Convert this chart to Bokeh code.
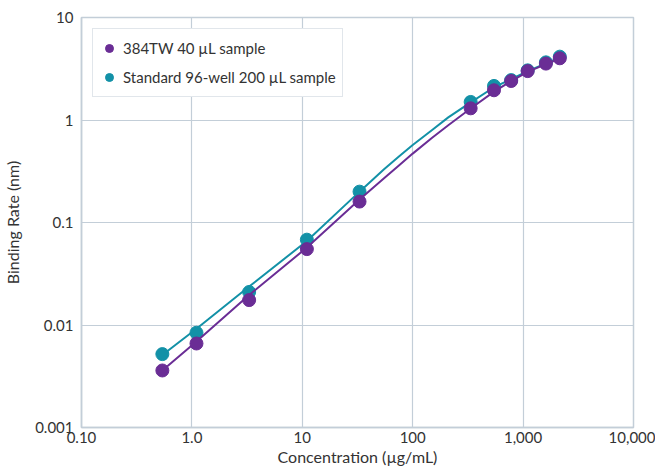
from bokeh.plotting import figure
from bokeh.models import FixedTicker, Legend, LegendItem
from bokeh.embed import file_html
from bokeh.resources import INLINE

# ---- data ----
conc = [0.54, 1.1, 3.3, 11, 33, 335, 545, 780, 1100, 1610, 2150]
rate_384tw = [0.0036, 0.0066, 0.0175, 0.055, 0.16, 1.3, 1.95, 2.4, 3.0, 3.55, 4.0]
rate_96well = [0.0052, 0.0084, 0.021, 0.068, 0.2, 1.5, 2.15, 2.45, 3.05, 3.65, 4.15]

fit_conc = [0.54, 1.1, 3.3, 11, 33, 55, 75, 100, 150, 210, 330, 550, 780, 1100, 1650, 2200]
fit_384tw = [0.0036, 0.0069, 0.0196, 0.057, 0.168, 0.27, 0.36, 0.47, 0.67, 0.89, 1.28, 1.9, 2.4, 2.95, 3.55, 4.0]
fit_96well = [0.0051, 0.0092, 0.0237, 0.066, 0.2, 0.33, 0.44, 0.57, 0.8, 1.06, 1.47, 2.1, 2.5, 3.0, 3.6, 4.1]

x_ticks = [0.1, 1, 10, 100, 1000, 10000]
x_tick_labels = ["0.10", "1.0", "10", "100", "1,000", "10,000"]
y_ticks = [0.001, 0.01, 0.1, 1, 10]
y_tick_labels = ["0.001", "0.01", "0.1", "1", "10"]

series_names = ["384TW 40 \u00b5L sample", "Standard 96-well 200 \u00b5L sample"]

PURPLE = "#6a2d95"
TEAL = "#1391a7"
GRID = "#c3ced8"
TEXT = "#333333"
FONT = "Lato"

p = figure(width=655, height=468, x_axis_type="log", y_axis_type="log",
           x_range=(0.1, 10000), y_range=(0.001, 10),
           output_backend="svg", toolbar_location=None,
           min_border_left=79, min_border_right=22, min_border_top=17, min_border_bottom=41)

p.background_fill_color = "white"
p.border_fill_color = "white"
p.outline_line_color = GRID
p.outline_line_width = 1.5

# lines and points
l2 = p.line(fit_conc, fit_96well, line_color=TEAL, line_width=2)
s2 = p.scatter(conc, rate_96well, size=13, fill_color=TEAL, line_color=TEAL, marker="circle")
l1 = p.line(fit_conc, fit_384tw, line_color=PURPLE, line_width=2)
s1 = p.scatter(conc, rate_384tw, size=13, fill_color=PURPLE, line_color=PURPLE, marker="circle")

# axes
p.xaxis.ticker = FixedTicker(ticks=x_ticks, minor_ticks=[])
p.yaxis.ticker = FixedTicker(ticks=y_ticks, minor_ticks=[])
p.xaxis.major_label_overrides = {t: s for t, s in zip(x_ticks, x_tick_labels)}
p.yaxis.major_label_overrides = {t: s for t, s in zip(y_ticks, y_tick_labels)}
p.xaxis.axis_label = "Concentration (\u00b5g/mL)"
p.yaxis.axis_label = "Binding Rate (nm)"
for ax in (p.xaxis, p.yaxis):
    ax.axis_line_color = GRID
    ax.axis_line_width = 1.5
    ax.major_tick_line_color = None
    ax.minor_tick_line_color = None
    ax.major_tick_out = 0
    ax.major_tick_in = 0
    ax.major_label_text_font = FONT
    ax.major_label_text_font_size = "15px"
    ax.major_label_text_color = TEXT
    ax.axis_label_text_font = FONT
    ax.axis_label_text_font_size = "16px"
    ax.axis_label_text_font_style = "normal"
    ax.axis_label_text_color = TEXT
p.yaxis.major_label_standoff = 8
p.xaxis.major_label_standoff = 4
p.yaxis.axis_label_standoff = 10
p.xaxis.axis_label_standoff = 1
p.yaxis.major_label_orientation = "horizontal"

p.xgrid.grid_line_color = GRID
p.ygrid.grid_line_color = GRID
p.xgrid.grid_line_width = 1.2
p.ygrid.grid_line_width = 1.2

legend = Legend(items=[LegendItem(label=series_names[0], renderers=[s1]),
                       LegendItem(label=series_names[1], renderers=[s2])],
                location="top_left")
legend.margin = 11
legend.padding = 6
legend.glyph_width = 20
legend.glyph_height = 26
legend.label_height = 26
legend.spacing = 3
legend.label_standoff = 4
legend.label_text_font = FONT
legend.label_text_font_size = "15px"
legend.label_text_color = TEXT
legend.border_line_color = GRID
legend.border_line_width = 1.5
legend.background_fill_color = "white"
legend.background_fill_alpha = 1.0
p.add_layout(legend, "center")

open("out.html", "w").write(file_html(p, INLINE))
